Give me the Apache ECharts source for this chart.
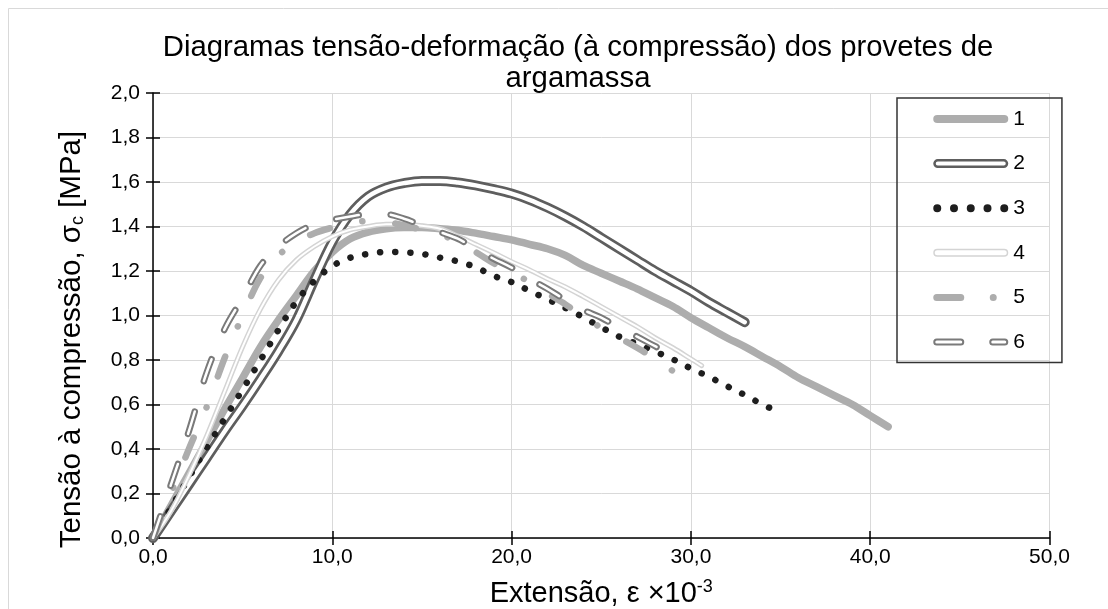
<!DOCTYPE html>
<html>
<head>
<meta charset="utf-8">
<script src="https://cdn.jsdelivr.net/npm/echarts@6/dist/echarts.min.js"></script>
<style>html,body{margin:0;padding:0;background:#fff}#c{width:1108px;height:609px}</style>
</head>
<body>
<div id="c"></div>
<script>
// ---- data (x = strain ×10^-3, y = stress MPa) ----
const seriesNames = ['1', '2', '3', '4', '5', '6'];
const xTicks = [0, 10, 20, 30, 40, 50];
const yTicks = [0, 0.2, 0.4, 0.6, 0.8, 1.0, 1.2, 1.4, 1.6, 1.8, 2.0];
const s1 = [[0,0],[1,0.145],[2,0.29],[3,0.435],[4,0.58],[5,0.72],[6,0.86],[7,0.98],[8,1.09],[9,1.2],[10,1.285],[11,1.345],[12,1.375],[13,1.39],[14,1.395],[15,1.395],[16,1.39],[17,1.383],[18,1.37],[19,1.355],[20,1.34],[21,1.32],[22,1.30],[23,1.27],[24,1.225],[25,1.19],[26,1.155],[27,1.12],[28,1.08],[29,1.04],[30,0.99],[31,0.945],[32,0.90],[33,0.86],[34,0.815],[35,0.77],[36,0.72],[37,0.68],[38,0.64],[39,0.6],[40,0.55],[41,0.5]];
const s2 = [[0,0],[1,0.12],[2,0.24],[3,0.36],[4,0.48],[5,0.595],[6,0.715],[7,0.84],[8,0.98],[9,1.16],[10,1.33],[11,1.455],[12,1.535],[13,1.575],[14,1.595],[15,1.605],[16,1.605],[17,1.598],[18,1.585],[19,1.568],[20,1.548],[21,1.52],[22,1.485],[23,1.445],[24,1.40],[25,1.35],[26,1.30],[27,1.25],[28,1.20],[29,1.155],[30,1.11],[31,1.06],[32,1.015],[33,0.97]];
const s3 = [[0,0],[1,0.135],[2,0.272],[3,0.406],[4,0.537],[5,0.668],[6,0.80],[7,0.936],[8,1.063],[9,1.155],[10,1.222],[11,1.26],[12,1.277],[13,1.286],[14,1.284],[15,1.277],[16,1.26],[17,1.243],[18,1.217],[19,1.178],[20,1.15],[21,1.111],[22,1.073],[23,1.034],[24,0.992],[25,0.947],[26,0.905],[27,0.872],[28,0.838],[29,0.803],[30,0.762],[31,0.725],[32,0.683],[33,0.643],[34,0.60],[35,0.563]];
const s4 = [[0,0],[1,0.12],[2,0.28],[3,0.46],[4,0.66],[5,0.86],[6,1.03],[7,1.16],[8,1.25],[9,1.31],[10,1.355],[11,1.385],[12,1.40],[13,1.41],[14,1.41],[15,1.403],[16,1.39],[17,1.357],[18,1.32],[19,1.282],[20,1.242],[21,1.205],[22,1.165],[23,1.128],[24,1.085],[25,1.04],[26,0.995],[27,0.95],[28,0.90],[29,0.855],[30,0.805],[30.6,0.775]];
const s5 = [[0,0],[1,0.2],[2,0.4],[3,0.59],[4,0.81],[5,1.0],[6,1.17],[7,1.27],[8,1.33],[9,1.37],[10,1.395],[11,1.415],[12,1.425],[13,1.42],[14,1.405],[15,1.385],[16,1.365],[17,1.33],[18,1.285],[19,1.235],[20,1.19],[21,1.152],[22,1.10],[23,1.05],[24,0.995],[25,0.945],[26,0.9],[27,0.855],[28,0.805],[29,0.75],[29.3,0.733]];
const s6 = [[0,0],[1,0.24],[2,0.48],[3,0.745],[4,0.94],[5,1.08],[6,1.225],[7,1.31],[8,1.37],[9,1.41],[10,1.43],[11,1.445],[12,1.455],[13,1.455],[14,1.435],[15,1.405],[16,1.375],[17,1.345],[18,1.30],[19,1.255],[20,1.215],[21,1.165],[22,1.12],[23,1.07],[24,1.025],[25,0.99],[26,0.945],[27,0.905],[28,0.862],[28.8,0.83]];

const FONT = "'Liberation Sans', Arial, sans-serif";
const C1 = '#adadad', C2 = '#5e5e5e', C3 = '#1e1e1e', C4 = '#d4d4d4', C5 = '#adadad', C6 = '#7a7a7a';

function circ(cx, cy, r) {
  return 'M' + (cx - r) + ',' + cy + ' A' + r + ',' + r + ' 0 1 0 ' + (cx + r) + ',' + cy + ' A' + r + ',' + r + ' 0 1 0 ' + (cx - r) + ',' + cy + ' Z ';
}
function pill(x0, x1, y0, y1) {
  const r = (y1 - y0) / 2;
  return 'M' + (x0 + r) + ',' + y0 + ' L' + (x1 - r) + ',' + y0 + ' A' + r + ',' + r + ' 0 0 1 ' + (x1 - r) + ',' + y1 + ' L' + (x0 + r) + ',' + y1 + ' A' + r + ',' + r + ' 0 0 1 ' + (x0 + r) + ',' + y0 + ' Z ';
}
const BOX = 'M0,0 L0,0 M75,9 L75,9 ';
const icon1 = 'path://' + BOX + pill(0, 75, 0.5, 8.5);
const icon2 = 'path://' + BOX + pill(1.25, 73.75, 1.25, 7.75);
const icon3 = 'path://' + BOX + circ(4, 4.5, 4) + circ(20.75, 4.5, 4) + circ(37.5, 4.5, 4) + circ(54.25, 4.5, 4) + circ(71, 4.5, 4);
const icon4 = 'path://' + BOX + pill(0.75, 74.25, 1.25, 7.75);
const icon5 = 'path://' + BOX + pill(0, 31, 1, 8) + circ(60, 4.5, 3.5);
const icon6 = 'path://' + BOX + pill(1, 30, 2, 7) + pill(57, 74, 2, 7);

function lineSeries(name, data, color, width, type) {
  return {
    name: name, type: 'line', data: data, smooth: 0.35,
    showSymbol: false, symbol: 'none', silent: true,
    lineStyle: { color: color, width: width, type: type || 'solid', cap: 'round', join: 'round' }
  };
}
const fmt = v => v.toFixed(1).replace('.', ',');

const chart = echarts.init(document.getElementById('c'), null, { renderer: 'canvas' });
chart.setOption({
  animation: false,
  backgroundColor: '#fff',
  textStyle: { fontFamily: FONT },
  graphic: [{
    type: 'rect', silent: true, z: -10,
    shape: { x: 8.5, y: 8.5, width: 1130, height: 640 },
    style: { fill: null, stroke: '#d9d9d9', lineWidth: 1 }
  }],
  title: {
    text: 'Diagramas tensão-deformação (à compressão) dos provetes de\nargamassa',
    left: 578, top: 32, textAlign: 'center', padding: 0,
    textStyle: { fontFamily: FONT, fontSize: 29.3, fontWeight: 'normal', color: '#000', lineHeight: 31 }
  },
  legend: {
    orient: 'vertical', left: 897, top: 98,
    padding: [10.5, 37, 10, 35],
    borderColor: '#333', borderWidth: 1.5,
    itemWidth: 75, itemHeight: 9, itemGap: 23.6, itemTextGap: 4,
    symbolKeepAspect: false,
    selectedMode: false,
    textStyle: { fontFamily: FONT, fontSize: 21, color: '#000', lineHeight: 21 },
    data: [
      { name: seriesNames[0], icon: icon1, itemStyle: { color: C1, borderWidth: 0 } },
      { name: seriesNames[1], icon: icon2, itemStyle: { color: '#fff', borderColor: C2, borderWidth: 2.5 } },
      { name: seriesNames[2], icon: icon3, itemStyle: { color: C3, borderWidth: 0 } },
      { name: seriesNames[3], icon: icon4, itemStyle: { color: '#fff', borderColor: C4, borderWidth: 1.5 } },
      { name: seriesNames[4], icon: icon5, itemStyle: { color: C5, borderWidth: 0 } },
      { name: seriesNames[5], icon: icon6, itemStyle: { color: '#fff', borderColor: C6, borderWidth: 2 } }
    ]
  },
  grid: { left: 153, right: 58.5, top: 93, bottom: 71, containLabel: false, outerBoundsMode: 'none' },
  xAxis: [{
    type: 'value', min: xTicks[0], max: xTicks[xTicks.length - 1], interval: xTicks[1] - xTicks[0],
    name: '{t|Extensão, ε ×10}{s|-3}', nameLocation: 'middle', nameGap: 40,
    nameTextStyle: { rich: {
      t: { fontFamily: FONT, fontSize: 29, color: '#000', lineHeight: 31 },
      s: { fontFamily: FONT, fontSize: 18, color: '#000', verticalAlign: 'top', lineHeight: 31 }
    } },
    axisLine: { show: true, onZero: false, lineStyle: { color: '#000', width: 1.5 } },
    axisTick: { show: true, inside: false, length: 7, lineStyle: { color: '#000', width: 1.5 } },
    axisLabel: { formatter: fmt, fontFamily: FONT, fontSize: 21, color: '#000', margin: 9 },
    splitLine: { show: true, lineStyle: { color: '#d9d9d9', width: 1 } }
  }, {
    type: 'value', position: 'bottom', min: xTicks[0], max: xTicks[xTicks.length - 1], interval: xTicks[1] - xTicks[0],
    axisLine: { show: false }, axisLabel: { show: false }, splitLine: { show: false },
    axisTick: { show: true, inside: true, length: 7, lineStyle: { color: '#000', width: 1.5 } }
  }],
  yAxis: [{
    type: 'value', min: yTicks[0], max: yTicks[yTicks.length - 1], interval: 0.2,
    name: '{t|Tensão à compressão, σ}{b|c}{t| [MPa]}', nameLocation: 'middle', nameGap: 66,
    nameTextStyle: { padding: [0, 48, 0, 0], rich: {
      t: { fontFamily: FONT, fontSize: 29.5, color: '#000', lineHeight: 31 },
      b: { fontFamily: FONT, fontSize: 18, color: '#000', verticalAlign: 'bottom', lineHeight: 31 }
    } },
    axisLine: { show: true, onZero: false, lineStyle: { color: '#000', width: 1.5 } },
    axisTick: { show: true, inside: false, length: 7, lineStyle: { color: '#000', width: 1.5 } },
    axisLabel: { formatter: fmt, fontFamily: FONT, fontSize: 21, color: '#000', margin: 13 },
    splitLine: { show: true, lineStyle: { color: '#d9d9d9', width: 1 } }
  }, {
    type: 'value', position: 'left', min: yTicks[0], max: yTicks[yTicks.length - 1], interval: 0.2,
    axisLine: { show: false }, axisLabel: { show: false }, splitLine: { show: false },
    axisTick: { show: true, inside: true, length: 7, lineStyle: { color: '#000', width: 1.5 } }
  }],
  series: [
    lineSeries(seriesNames[0], s1, C1, 7.5, 'solid'),
    lineSeries(seriesNames[1], s2, C2, 10, 'solid'),
    lineSeries(seriesNames[1], s2, '#ffffff', 4.5, 'solid'),
    lineSeries(seriesNames[2], s3, C3, 6.5, [0.1, 15]),
    lineSeries(seriesNames[3], s4, C4, 5, 'solid'),
    lineSeries(seriesNames[3], s4, '#ffffff', 2, 'solid'),
    lineSeries(seriesNames[4], s5, C5, 6.5, [21, 33, 0.1, 33]),
    lineSeries(seriesNames[5], s6, C6, 6.5, [23, 32]),
    lineSeries(seriesNames[5], s6, '#ffffff', 2.5, [23, 32])
  ]
});
</script>
</body>
</html>
